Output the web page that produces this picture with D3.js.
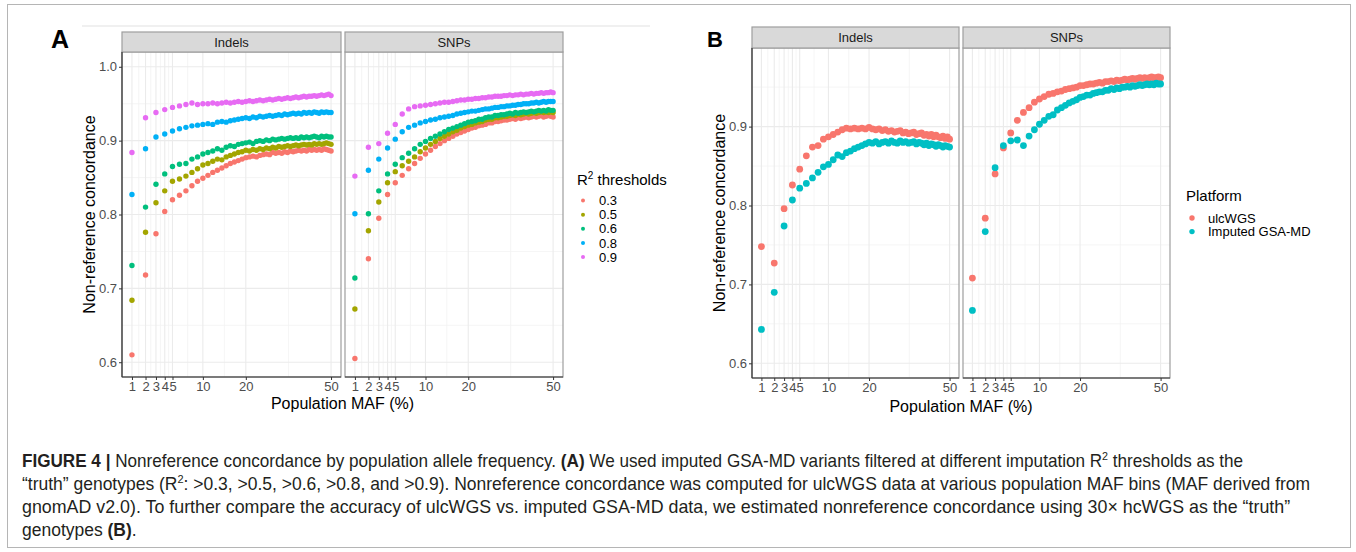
<!DOCTYPE html>
<html>
<head>
<meta charset="utf-8">
<script src="https://cdn.jsdelivr.net/npm/d3@7"></script>
<style>
  body { margin: 0; background: #fff; }
  svg { display: block; font-family: "Liberation Sans", Arial, sans-serif; }
</style>
</head>
<body>
<svg width="1356" height="552"></svg>
<script>
// MAF bins (%), one point per bin
let maf = [1,2,3,4,5,6,7,8,9,10,11,12,13,14,15,16,17,18,19,20,21,22,23,24,25,
           26,27,28,29,30,31,32,33,34,35,36,37,38,39,40,41,42,43,44,45,46,47,48,49,50]
let xTicks = [1, 2, 3, 4, 5, 10, 20, 50]
let yTicksA = [0.6, 0.7, 0.8, 0.9, 1.0]
let yTicksB = [0.6, 0.7, 0.8, 0.9]
let facets = ['Indels', 'SNPs']

let thresholds = ['0.3', '0.5', '0.6', '0.8', '0.9']
let thresholdColors = ['#F8766D', '#A3A500', '#00BF7D', '#00B0F6', '#E76BF3']
let platforms = ['ulcWGS', 'Imputed GSA-MD']
let platformColors = ['#F8766D', '#00BFC4']

// panel A, Indels, one array per R2 threshold
let aIndels03 = [.610,.718,.774,.804,.820,.826,.832,.839,.845,.849,
                 .853,.857,.860,.863,.866,.869,.871,.873,.875,.877,
                 .878,.879,.878,.880,.881,.882,.881,.884,.883,.884,
                 .883,.885,.884,.886,.885,.886,.887,.886,.887,.886,
                 .888,.887,.888,.887,.888,.887,.889,.888,.887,.886]
let aIndels05 = [.684,.776,.816,.832,.845,.848,.852,.857,.862,.867,
                 .869,.872,.875,.874,.878,.880,.882,.884,.885,.887,
                 .886,.888,.887,.889,.888,.890,.889,.891,.890,.892,
                 .891,.892,.893,.892,.893,.894,.893,.894,.895,.894,
                 .895,.894,.896,.895,.896,.895,.896,.897,.896,.895]
let aIndels06 = [.731,.810,.841,.855,.865,.868,.869,.875,.878,.882,
                 .884,.886,.889,.887,.891,.893,.892,.895,.896,.897,
                 .898,.896,.899,.900,.899,.901,.900,.902,.901,.902,
                 .903,.902,.903,.904,.903,.904,.903,.905,.904,.905,
                 .904,.905,.906,.905,.904,.906,.905,.906,.905,.905]
let aIndels08 = [.827,.889,.905,.909,.913,.916,.918,.920,.921,.922,
                 .923,.922,.925,.926,.925,.927,.928,.929,.930,.931,
                 .930,.932,.931,.933,.932,.933,.934,.933,.934,.935,
                 .934,.936,.935,.936,.937,.936,.937,.936,.938,.937,
                 .938,.937,.939,.938,.937,.939,.938,.939,.938,.938]
let aIndels09 = [.884,.931,.938,.942,.945,.947,.949,.951,.949,.950,
                 .950,.951,.950,.951,.952,.951,.952,.953,.952,.953,
                 .954,.953,.954,.955,.954,.955,.956,.955,.956,.957,
                 .956,.957,.958,.957,.958,.959,.958,.959,.960,.959,
                 .960,.960,.961,.960,.961,.962,.961,.962,.963,.961]

// panel A, SNPs
let aSnps03 = [.605,.740,.795,.827,.843,.853,.862,.869,.876,.882,
               .887,.892,.896,.900,.903,.906,.909,.911,.913,.915,
               .917,.918,.920,.921,.922,.924,.924,.926,.926,.927,
               .928,.928,.929,.930,.929,.931,.930,.931,.932,.931,
               .932,.933,.932,.933,.934,.932,.933,.934,.933,.932]
let aSnps05 = [.672,.778,.817,.843,.858,.866,.872,.878,.885,.890,
               .895,.899,.903,.906,.909,.912,.914,.917,.919,.921,
               .922,.924,.925,.926,.928,.929,.929,.931,.931,.932,
               .933,.933,.934,.935,.934,.936,.935,.936,.937,.936,
               .937,.938,.937,.938,.939,.938,.939,.938,.939,.938]
let aSnps06 = [.714,.801,.832,.855,.868,.877,.883,.889,.895,.899,
               .903,.906,.909,.912,.915,.917,.919,.921,.923,.925,
               .926,.927,.929,.929,.931,.932,.932,.934,.934,.935,
               .935,.936,.937,.936,.938,.937,.938,.939,.938,.939,
               .940,.939,.940,.941,.940,.941,.940,.942,.941,.941]
let aSnps08 = [.801,.860,.875,.890,.902,.912,.918,.921,.924,.926,
               .928,.929,.931,.932,.933,.934,.936,.937,.938,.939,
               .940,.940,.941,.942,.943,.943,.944,.945,.945,.946,
               .946,.947,.947,.948,.948,.949,.949,.950,.950,.950,
               .951,.951,.952,.951,.952,.953,.952,.953,.953,.953]
let aSnps09 = [.852,.891,.896,.910,.922,.936,.943,.946,.947,.948,
               .949,.950,.951,.952,.952,.953,.954,.955,.955,.956,
               .956,.957,.957,.958,.958,.959,.959,.960,.960,.960,
               .961,.961,.962,.961,.962,.962,.963,.962,.963,.963,
               .964,.963,.964,.964,.965,.964,.965,.965,.966,.965]

// panel B, one array per platform
let bIndelsUlc = [.748,.727,.796,.826,.846,.863,.874,.876,.884,.887,
                  .890,.893,.896,.898,.897,.898,.897,.898,.897,.899,
                  .897,.896,.897,.895,.896,.894,.895,.893,.894,.895,
                  .892,.893,.891,.892,.893,.890,.891,.892,.889,.890,
                  .888,.890,.887,.889,.887,.886,.888,.885,.887,.884]
let bIndelsImp = [.643,.690,.774,.807,.822,.828,.835,.842,.849,.852,
                  .858,.864,.862,.867,.869,.872,.874,.876,.878,.880,
                  .879,.881,.878,.880,.881,.879,.882,.880,.879,.882,
                  .880,.881,.879,.880,.881,.878,.880,.879,.877,.879,
                  .876,.878,.877,.875,.877,.876,.874,.876,.875,.874]
let bSnpsUlc = [.708,.784,.840,.873,.892,.908,.918,.924,.931,.935,
                .938,.941,.942,.944,.945,.947,.948,.949,.950,.952,
                .952,.953,.954,.954,.955,.956,.955,.957,.957,.958,
                .957,.959,.958,.959,.960,.959,.960,.961,.960,.961,
                .962,.961,.962,.961,.962,.963,.962,.962,.963,.962]
let bSnpsImp = [.667,.767,.848,.876,.882,.883,.876,.888,.896,.903,
                .908,.913,.915,.921,.924,.927,.930,.932,.934,.937,
                .938,.940,.940,.942,.943,.944,.944,.946,.946,.948,
                .947,.949,.948,.950,.950,.951,.950,.952,.951,.952,
                .953,.952,.953,.954,.953,.954,.953,.955,.954,.954]

let captionLines = [
  [['FIGURE 4 | ', 'b'], ['Nonreference concordance by population allele frequency. ', ''], ['(A)', 'b'],
   [' We used imputed GSA-MD variants filtered at different imputation R', ''], ['2', 'sup'], [' thresholds as the', '']],
  [['\u201Ctruth\u201D genotypes (R', ''], ['2', 'sup'],
   [': >0.3, >0.5, >0.6, >0.8, and >0.9). Nonreference concordance was computed for ulcWGS data at various population MAF bins (MAF derived from', '']],
  [['gnomAD v2.0). To further compare the accuracy of ulcWGS vs. imputed GSA-MD data, we estimated nonreference concordance using 30\u00D7 hcWGS as the \u201Ctruth\u201D', '']],
  [['genotypes ', ''], ['(B)', 'b'], ['.', '']]
]
let captionEnds = [1244, 1311, 1291, 0]

let svg = d3.select('svg')
let axisColor = '#333333'
let borderColor = '#9E9E9E'

// minor grid sits halfway between major breaks in sqrt space
let xMinor = xTicks.slice(1).map((t, i) => Math.pow((Math.sqrt(t) + Math.sqrt(xTicks[i])) / 2, 2))

let drawFrame = () => {
    svg.append('rect')
       .attr('x', 7.5).attr('y', 4.5)
       .attr('width', 1343).attr('height', 543)
       .attr('fill', 'none')
       .attr('stroke', '#B5B5B5')
    svg.append('line')
       .attr('x1', 82).attr('x2', 650)
       .attr('y1', 26).attr('y2', 26)
       .attr('stroke', '#F0F0F0').attr('stroke-width', 2)
}

let styleAxis = (g) => {
    g.attr('font-family', null).attr('font-size', null)
    g.select('.domain').attr('stroke', axisColor).attr('stroke-width', 1.2)
    g.selectAll('.tick line').attr('stroke', axisColor).attr('stroke-width', 1)
    g.selectAll('.tick text').attr('fill', '#4D4D4D').style('font-size', '13px')
}

let drawPanel = (p, layout, yScale, yTicks, yMinor, series, colors, radius, first) => {
    let pad = (p.x1 - p.x0) * 0.05 / 1.1
    let xScale = d3.scaleSqrt().domain([1, 50]).range([p.x0 + pad, p.x1 - pad])
    let g = svg.append('g')

    // grid
    g.selectAll('.vminor').data(xMinor).enter().append('line')
     .attr('x1', d => xScale(d)).attr('x2', d => xScale(d))
     .attr('y1', layout.top).attr('y2', layout.bottom)
     .attr('stroke', '#F2F2F2').attr('stroke-width', 0.8)
    g.selectAll('.hminor').data(yMinor).enter().append('line')
     .attr('x1', p.x0).attr('x2', p.x1)
     .attr('y1', d => yScale(d)).attr('y2', d => yScale(d))
     .attr('stroke', '#F2F2F2').attr('stroke-width', 0.8)
    g.selectAll('.vmajor').data(xTicks).enter().append('line')
     .attr('x1', d => xScale(d)).attr('x2', d => xScale(d))
     .attr('y1', layout.top).attr('y2', layout.bottom)
     .attr('stroke', '#EBEBEB').attr('stroke-width', 1.1)
    g.selectAll('.hmajor').data(yTicks).enter().append('line')
     .attr('x1', p.x0).attr('x2', p.x1)
     .attr('y1', d => yScale(d)).attr('y2', d => yScale(d))
     .attr('stroke', '#EBEBEB').attr('stroke-width', 1.1)

    // points, one group per series
    series.forEach((vals, s) => {
        g.append('g').selectAll('circle')
         .data(vals)
         .enter()
         .append('circle')
         .attr('cx', (d, i) => xScale(maf[i]))
         .attr('cy', d => yScale(d))
         .attr('r', radius)
         .attr('fill', colors[s])
    })

    // border and strip
    g.append('rect')
     .attr('x', p.x0).attr('y', layout.top)
     .attr('width', p.x1 - p.x0).attr('height', layout.bottom - layout.top)
     .attr('fill', 'none').attr('stroke', borderColor).attr('stroke-width', 1.2)
    g.append('rect')
     .attr('x', p.x0).attr('y', layout.stripTop)
     .attr('width', p.x1 - p.x0).attr('height', layout.top - layout.stripTop)
     .attr('fill', '#D9D9D9').attr('stroke', borderColor).attr('stroke-width', 1.2)
    g.append('text')
     .attr('x', (p.x0 + p.x1) / 2).attr('y', (layout.stripTop + layout.top) / 2)
     .attr('dy', '0.35em').attr('text-anchor', 'middle')
     .attr('fill', '#1A1A1A').style('font-size', '13px')
     .text(p.name)

    // axes
    let xAxis = d3.axisBottom(xScale).tickValues(xTicks).tickFormat(d3.format('d'))
                  .tickSize(3).tickPadding(2)
    svg.append('g')
       .attr('transform', 'translate(0,' + layout.bottom + ')')
       .call(xAxis)
       .call(styleAxis)
       .select('.domain').attr('d', 'M' + p.x0 + ',0H' + p.x1)

    if (first) {
        let yAxis = d3.axisLeft(yScale).tickValues(yTicks).tickFormat(d3.format('.1f'))
                      .tickSize(3).tickPadding(2)
        svg.append('g')
           .attr('transform', 'translate(' + p.x0 + ',0)')
           .call(yAxis)
           .call(styleAxis)
           .select('.domain').attr('d', 'M0,' + layout.top + 'V' + layout.bottom)
    }
}

let drawTitles = (layout, ylabX, xlabY) => {
    let x0 = layout.panels[0].x0, x1 = layout.panels[1].x1
    svg.append('text')
       .attr('x', (x0 + x1) / 2).attr('y', xlabY)
       .attr('text-anchor', 'middle').style('font-size', '16px').attr('fill', '#000')
       .text('Population MAF (%)')
    svg.append('text')
       .attr('transform', 'translate(' + ylabX + ',' + (layout.top + layout.bottom) / 2 + ') rotate(-90)')
       .attr('text-anchor', 'middle').style('font-size', '16px').attr('fill', '#000')
       .text('Non-reference concordance')
}

let drawLegend = (x, y, titleParts, labels, colors, radius, step, gap) => {
    let t = svg.append('text').attr('x', x).attr('y', y).style('font-size', '15px').attr('fill', '#000')
    titleParts.forEach(part => {
        let ts = t.append('tspan').text(part[0])
        if (part[1] == 'sup') ts.attr('dy', -6).style('font-size', '10px')
        if (part[1] == 'down') ts.attr('dy', 6)
    })
    labels.forEach((lab, i) => {
        let cy = y + gap + i * step
        svg.append('circle').attr('cx', x + 6).attr('cy', cy).attr('r', radius).attr('fill', colors[i])
        svg.append('text').attr('x', x + 22).attr('y', cy).attr('dy', '0.35em')
           .style('font-size', '13px').attr('fill', '#000').text(lab)
    })
}

let drawCaption = () => {
    let scales = []
    captionLines.forEach((line, li) => {
        let t = svg.append('text')
                   .attr('x', 0).attr('y', 0)
                   .style('font-family', '"Liberation Sans Narrow", "Liberation Sans", Arial, sans-serif')
                   .style('font-size', '17.5px').attr('fill', '#231F20')
        let shifted = false
        line.forEach(part => {
            let ts = t.append('tspan').text(part[0])
            if (part[1] == 'b') ts.attr('font-weight', 'bold')
            if (part[1] == 'sup') { ts.attr('dy', -7).style('font-size', '11px'); shifted = true }
            else if (shifted) { ts.attr('dy', 7); shifted = false }
        })
        let w = t.node().getComputedTextLength()
        let sx = captionEnds[li] ? (captionEnds[li] - 22) / w : d3.mean(scales)
        scales.push(sx)
        t.attr('transform', 'translate(22,' + (467 + li * 23) + ') scale(' + sx + ',1)')
    })
}

let layoutA = {
    stripTop: 32, top: 52, bottom: 377,
    panels: [{name: facets[0], x0: 122, x1: 341}, {name: facets[1], x0: 345, x1: 563}]
}
let layoutB = {
    stripTop: 27, top: 48, bottom: 378,
    panels: [{name: facets[0], x0: 752, x1: 959}, {name: facets[1], x0: 963, x1: 1170}]
}

let yScaleA = d3.scaleLinear().domain([0.58, 1.02]).range([layoutA.bottom, layoutA.top])
let yScaleB = d3.scaleLinear().domain([0.5814, 0.9996]).range([layoutB.bottom, layoutB.top])

drawFrame()

drawPanel(layoutA.panels[0], layoutA, yScaleA, yTicksA, [0.65, 0.75, 0.85, 0.95],
          [aIndels03, aIndels05, aIndels06, aIndels08, aIndels09], thresholdColors, 2.7, true)
drawPanel(layoutA.panels[1], layoutA, yScaleA, yTicksA, [0.65, 0.75, 0.85, 0.95],
          [aSnps03, aSnps05, aSnps06, aSnps08, aSnps09], thresholdColors, 2.7, false)
drawTitles(layoutA, 95, 409)
drawLegend(577, 185, [['R', ''], ['2', 'sup'], [' thresholds', 'down']], thresholds, thresholdColors, 2, 14.15, 15.5)

drawPanel(layoutB.panels[0], layoutB, yScaleB, yTicksB, [0.65, 0.75, 0.85, 0.95],
          [bIndelsUlc, bIndelsImp], platformColors, 3.4, true)
drawPanel(layoutB.panels[1], layoutB, yScaleB, yTicksB, [0.65, 0.75, 0.85, 0.95],
          [bSnpsUlc, bSnpsImp], platformColors, 3.4, false)
drawTitles(layoutB, 725, 412)
drawLegend(1186, 201, [['Platform', '']], platforms, platformColors, 2.7, 13.6, 17)

// panel letters
svg.append('text').attr('x', 51).attr('y', 48).attr('font-weight', 'bold')
   .style('font-size', '25px').attr('fill', '#000').text('A')
svg.append('text').attr('x', 707).attr('y', 47).attr('font-weight', 'bold')
   .style('font-size', '22px').attr('fill', '#000').text('B')

drawCaption()
</script>
</body>
</html>
